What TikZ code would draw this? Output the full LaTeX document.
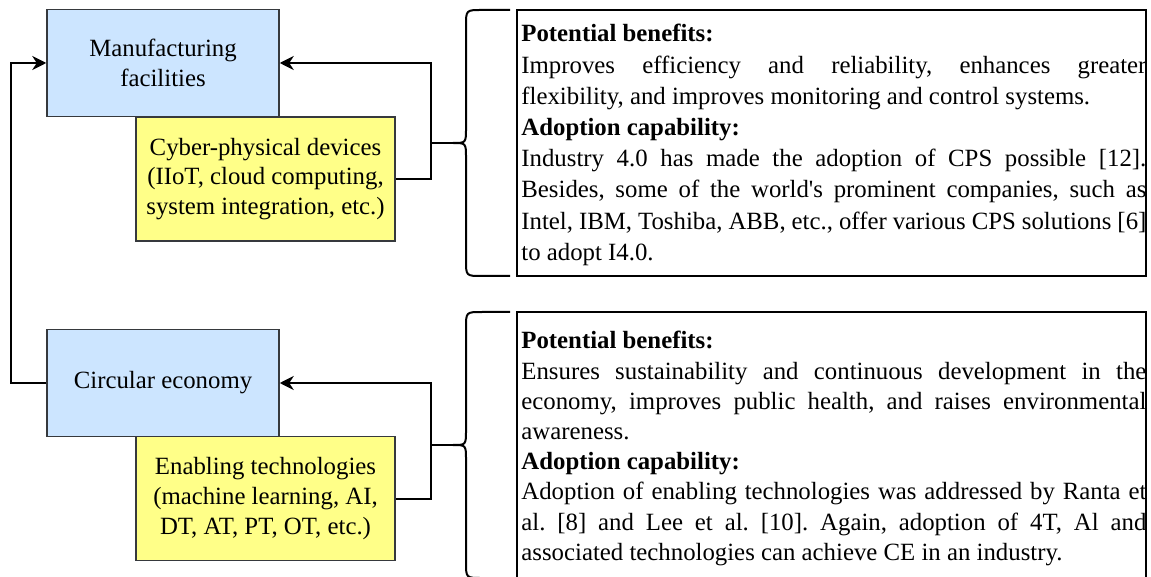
\documentclass[tikz,border=0pt]{standalone}
\usepackage{fontspec}
\setmainfont{Liberation Serif}
\usetikzlibrary{arrows.meta,calc}
\definecolor{azulcaja}{HTML}{CCE5FF}
\definecolor{amarillo}{HTML}{FFFF88}
\definecolor{borde}{HTML}{36393D}
\frenchspacing
\tikzset{
  area/.style={draw=borde,fill=azulcaja,line width=0.75pt,inner sep=0pt,
               minimum width=116pt,minimum height=53.5pt,align=center,
               font=\fontsize{12.4}{15}\selectfont},
  tecno/.style={draw=borde,fill=amarillo,line width=0.75pt,inner sep=0pt,
                minimum width=129.5pt,minimum height=62pt,align=center,
                font=\fontsize{12.4}{14.8}\selectfont},
  marco/.style={draw=black,line width=0.75pt,minimum width=314.5pt,inner sep=0pt},
  texto/.style={text width=312.5pt,align=justify,inner sep=0pt,anchor=north west},
  flecha/.style={-{Stealth[length=7pt,width=7pt]},line width=1pt},
  linea/.style={line width=1pt},
  llave/.style={line width=1pt},
}
\begin{document}
\begin{tikzpicture}[x=0.5pt,y=-0.5pt]
  \useasboundingbox (0,0) rectangle (1151,577);
  \node[area] (mfg) at (163,63) {Manufacturing\\facilities};
  \node[tecno] (cps) at (265.5,179) {Cyber-physical devices\\(IIoT, cloud computing,\\system integration, etc.)};
  \node[area] (ce) at (163,383) {Circular economy};
  \node[tecno] (et) at (265.5,498.5) {Enabling technologies\\(machine learning, AI,\\DT, AT, PT, OT, etc.)};
  \node[marco,minimum height=133pt] (m1) at (831.5,143) {};
  \node[marco,minimum height=134pt] (m2) at (831.5,446) {};
  \node[texto,font=\fontsize{12.4}{15.6}\selectfont] (t1) at (521,24) {%
    \hyphenpenalty=10000 \tolerance=9999 \textbf{Potential benefits:}\\
    Improves efficiency and reliability, enhances greater\linebreak
    flexibility, and improves monitoring and control systems.\\
    \textbf{Adoption capability:}\\
    Industry 4.0 has made the adoption of CPS possible [12].\linebreak
    Besides, some of the world\textquotesingle s prominent companies, such as\linebreak
    Intel, IBM, Toshiba, ABB, etc., offer various CPS solutions [6]\linebreak
    to adopt I4.0.};
  \node[texto,font=\fontsize{12.4}{15.1}\selectfont] (t2) at (521,331) {%
    \hyphenpenalty=10000 \tolerance=9999 \textbf{Potential benefits:}\\
    Ensures sustainability and continuous development in the\linebreak
    economy, improves public health, and raises environmental\linebreak
    awareness.\\
    \textbf{Adoption capability:}\\
    Adoption of enabling technologies was addressed by Ranta et\linebreak
    al. [8] and Lee et al. [10]. Again, adoption of 4T, Al and\linebreak
    associated technologies can achieve CE in an industry.};
  \foreach \y/\b in {10/b1,312/b2} {
    \coordinate (\b) at (453,\y+133);
    \draw[llave] (510,\y) -- (482,\y) .. controls (466,\y) .. (466,\y+16)
      -- (466,\y+118) .. controls (466,\y+133) .. (\b)
      .. controls (466,\y+133) .. (466,\y+148) -- (466,\y+250)
      .. controls (466,\y+266) .. (482,\y+266) -- (510,\y+266);
  }
  \draw[flecha] (cps.east) -- ++(35,0) coordinate (j1) |- (mfg.east);
  \draw[linea] (b1) -- (b1 -| j1);
  \draw[flecha] (et.east) -- ++(35,0) coordinate (j2) |- (ce.east);
  \draw[linea] (b2) -- (b2 -| j2);
  \draw[flecha] (ce.west) -- ++(-35,0) |- (mfg.west);
\end{tikzpicture}
\end{document}
